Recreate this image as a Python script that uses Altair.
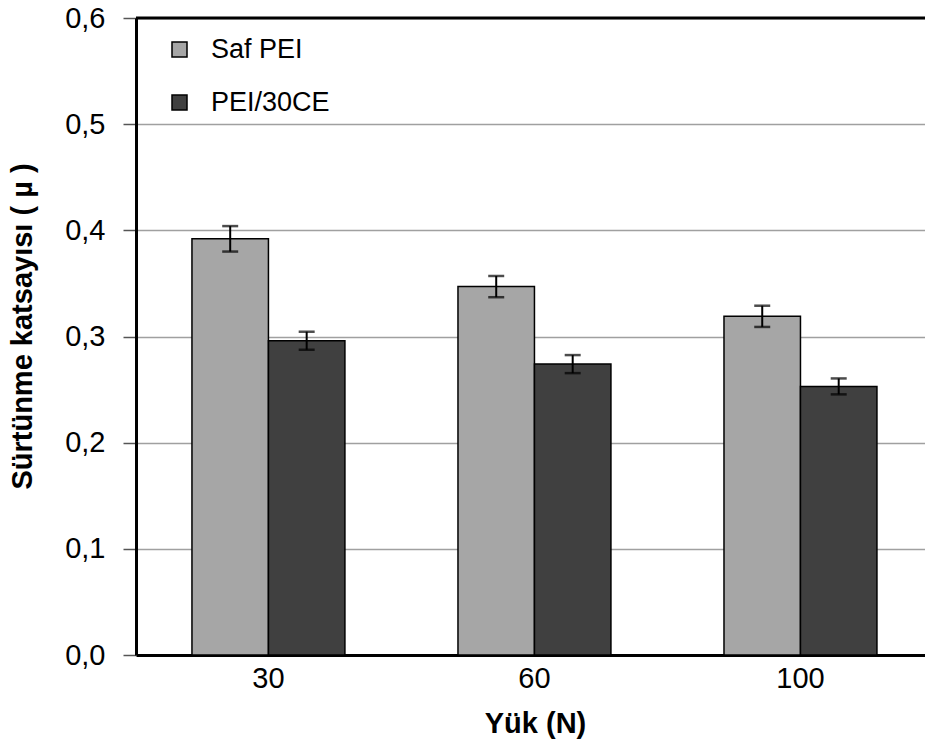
import altair as alt
import pandas as pd

loads = ["30", "60", "100"]
series = ["Saf PEI", "PEI/30CE"]
saf_pei = [0.392, 0.347, 0.319]
saf_pei_err = [0.012, 0.010, 0.010]
pei_30ce = [0.296, 0.274, 0.253]
pei_30ce_err = [0.0085, 0.0085, 0.0075]
colors = ["#a6a6a6", "#404040"]
y_ticks = [0.0, 0.1, 0.2, 0.3, 0.4, 0.5, 0.6]
y_title = "Sürtünme katsayısı ( µ )"
x_title = "Yük (N)"

rows = []
for i, load in enumerate(loads):
    rows.append({"load": load, "series": series[0], "value": saf_pei[i], "err": saf_pei_err[i]})
    rows.append({"load": load, "series": series[1], "value": pei_30ce[i], "err": pei_30ce_err[i]})
df = pd.DataFrame(rows)
df["lo"] = df["value"] - df["err"]
df["hi"] = df["value"] + df["err"]

FONT = "Liberation Sans"

x_enc = alt.X(
    "load:N",
    sort=loads,
    scale=alt.Scale(domain=loads, paddingInner=0.425, paddingOuter=0.1955, align=0.538),
    axis=alt.Axis(
        title=x_title,
        ticks=False,
        labelAngle=0,
        labelFontSize=29,
        labelPadding=9,
        domainColor="black",
        domainWidth=3,
        titleFontSize=29,
        titleFontWeight="bold",
        titleX=399,
        titleY=77,
        titleBaseline="alphabetic",
    ),
)
xoff_enc = alt.XOffset(
    "series:N", sort=series, scale=alt.Scale(domain=series, paddingInner=0, paddingOuter=0)
)
y_scale = alt.Scale(domain=[0, 0.6], nice=False, zero=True)

base = alt.Chart(df)

bars = base.mark_bar(stroke="black", strokeWidth=1.5).encode(
    x=x_enc,
    xOffset=xoff_enc,
    y=alt.Y(
        "value:Q",
        scale=y_scale,
        title=y_title,
        axis=alt.Axis(
            values=y_ticks,
            labelExpr="replace(format(datum.value, '.1f'), '.', ',')",
            labelFontSize=29,
            labelPadding=18,
            tickSize=13,
            tickColor="#555555",
            tickWidth=1.5,
            domainColor="black",
            domainWidth=3,
            grid=True,
            gridColor="#a0a0a0",
            gridWidth=1.5,
            titleFontSize=29,
            titleFontWeight="bold",
            titleX=-114,
            titleY=308,
            titleBaseline="middle",
        ),
    ),
    color=alt.Color(
        "series:N",
        sort=series,
        scale=alt.Scale(domain=series, range=colors),
        legend=alt.Legend(
            title=None,
            orient="none",
            legendX=30,
            legendY=18,
            symbolType="square",
            symbolSize=225,
            symbolStrokeColor="black",
            symbolStrokeWidth=1.5,
            symbolOpacity=1,
            labelFontSize=27,
            labelFont=FONT,
            labelColor="black",
            labelOffset=18,
            rowPadding=25,
            padding=0,
        ),
    ),
)

err_rule = base.mark_rule(color="black", strokeWidth=2).encode(
    x=alt.X("load:N", sort=loads),
    xOffset=xoff_enc,
    y=alt.Y("lo:Q", scale=y_scale, title=y_title),
    y2="hi:Q",
)
cap_hi = base.mark_tick(color="black", thickness=2.5, size=16).encode(
    x=alt.X("load:N", sort=loads),
    xOffset=xoff_enc,
    y=alt.Y("hi:Q", scale=y_scale, title=y_title),
)
cap_lo = base.mark_tick(color="black", thickness=2.5, size=16).encode(
    x=alt.X("load:N", sort=loads),
    xOffset=xoff_enc,
    y=alt.Y("lo:Q", scale=y_scale, title=y_title),
)
top_border = alt.Chart(pd.DataFrame({"top": [y_ticks[-1]]})).mark_rule(
    color="black", strokeWidth=3
).encode(y=alt.Y("top:Q", scale=y_scale, title=y_title))

chart = (
    alt.layer(bars, err_rule, cap_hi, cap_lo, top_border)
    .properties(
        width=789,
        height=637,
        autosize=alt.AutoSizeParams(type="none"),
        padding={"left": 136, "top": 18, "right": 0, "bottom": 94},
        background="white",
    )
    .configure_view(strokeOpacity=0)
    .configure_axis(
        labelFont=FONT,
        titleFont=FONT,
        labelColor="black",
        titleColor="black",
    )
)

chart.save("out.html", embed_options={"renderer": "svg", "actions": False})
